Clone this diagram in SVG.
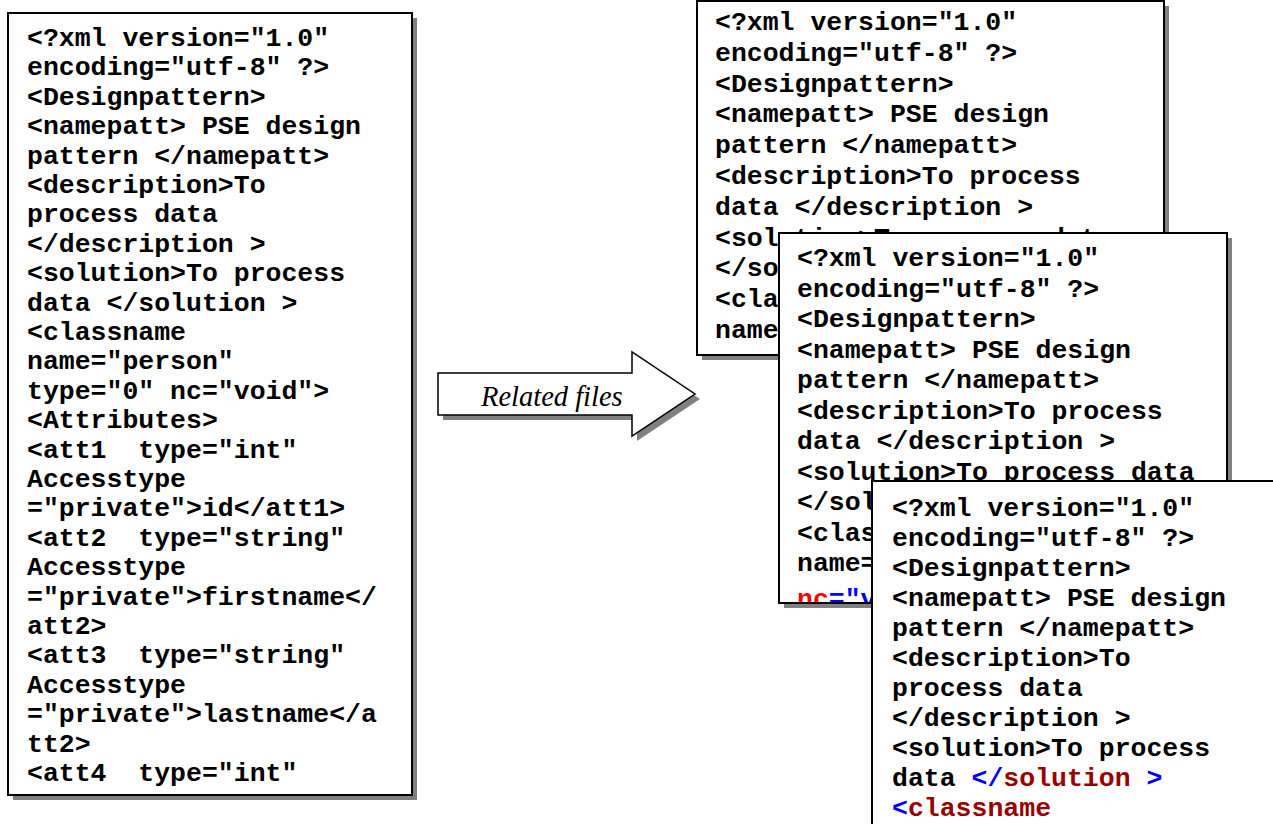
<svg xmlns="http://www.w3.org/2000/svg" width="1273" height="824" viewBox="0 0 1273 824">
  <style>
    .shadow { fill: #808080; }
    .box { fill: #ffffff; stroke: #000000; stroke-width: 2; }
    .code { font-family: "Liberation Mono", "Courier New", monospace; font-weight: bold; font-size: 26.5px; fill: #000000; }
    .tag { fill: #0000ff; }
    .elem { fill: #990000; }
    .attr { fill: #ff0000; }
    .label { font-family: "Liberation Serif", "Times New Roman", serif; font-style: italic; font-size: 28.5px; fill: #000000; }
  </style>
  <defs>
    <clipPath id="clip-file2">
      <rect x="780" y="234" width="446" height="368"/>
    </clipPath>
  </defs>

  <rect width="1273" height="824" fill="#ffffff"/>

  <!-- source XML file -->
  <g id="source-file">
    <rect class="shadow" x="13" y="18" width="404" height="782"/>
    <rect class="box" x="8" y="13" width="404" height="782"/>
    <g class="code">
      <text x="27" y="46">&lt;?xml version="1.0"</text>
      <text x="27" y="75.4">encoding="utf-8" ?&gt;</text>
      <text x="27" y="104.8">&lt;Designpattern&gt;</text>
      <text x="27" y="134.2">&lt;namepatt&gt; PSE design</text>
      <text x="27" y="163.6">pattern &lt;/namepatt&gt;</text>
      <text x="27" y="193">&lt;description&gt;To</text>
      <text x="27" y="222.4">process data</text>
      <text x="27" y="251.8">&lt;/description &gt;</text>
      <text x="27" y="281.2">&lt;solution&gt;To process</text>
      <text x="27" y="310.6">data &lt;/solution &gt;</text>
      <text x="27" y="340">&lt;classname</text>
      <text x="27" y="369.4">name="person"</text>
      <text x="27" y="398.8">type="0" nc="void"&gt;</text>
      <text x="27" y="428.2">&lt;Attributes&gt;</text>
      <text x="27" y="457.6">&lt;att1&#160; type="int"</text>
      <text x="27" y="487">Accesstype</text>
      <text x="27" y="516.4">="private"&gt;id&lt;/att1&gt;</text>
      <text x="27" y="545.8">&lt;att2&#160; type="string"</text>
      <text x="27" y="575.2">Accesstype</text>
      <text x="27" y="604.6">="private"&gt;firstname&lt;/</text>
      <text x="27" y="634">att2&gt;</text>
      <text x="27" y="663.4">&lt;att3&#160; type="string"</text>
      <text x="27" y="692.8">Accesstype</text>
      <text x="27" y="722.2">="private"&gt;lastname&lt;/a</text>
      <text x="27" y="751.6">tt2&gt;</text>
      <text x="27" y="781">&lt;att4&#160; type="int"</text>
    </g>
  </g>

  <!-- block arrow between the source and the related files -->
  <g id="connectors">
    <polygon class="shadow" points="443,378 637,378 637,357 700,399 637,441 637,420 443,420"/>
    <polygon fill="#ffffff" stroke="#000000" stroke-width="1.5" points="438,373 632,373 632,352 695,394 632,436 632,415 438,415"/>
    <text class="label" x="481" y="406">Related files</text>
  </g>

  <!-- related file 1 -->
  <g id="related-file-1">
    <rect class="shadow" x="702" y="6" width="467" height="354"/>
    <rect class="box" x="697" y="1" width="467" height="354"/>
    <g class="code">
      <text x="715" y="30">&lt;?xml version="1.0"</text>
      <text x="715" y="60.8">encoding="utf-8" ?&gt;</text>
      <text x="715" y="91.6">&lt;Designpattern&gt;</text>
      <text x="715" y="122.4">&lt;namepatt&gt; PSE design</text>
      <text x="715" y="153.2">pattern &lt;/namepatt&gt;</text>
      <text x="715" y="184">&lt;description&gt;To process</text>
      <text x="715" y="214.8">data &lt;/description &gt;</text>
      <text x="715" y="245.6">&lt;solution&gt;To process data</text>
      <text x="715" y="276.4">&lt;/solution &gt;</text>
      <text x="715" y="307.2">&lt;classname</text>
      <text x="715" y="338">name="person"</text>
    </g>
  </g>

  <!-- related file 2 -->
  <g id="related-file-2">
    <rect class="shadow" x="784" y="238" width="448" height="370"/>
    <rect class="box" x="779" y="233" width="448" height="370"/>
    <g class="code" clip-path="url(#clip-file2)">
      <text x="797" y="266">&lt;?xml version="1.0"</text>
      <text x="797" y="296.5">encoding="utf-8" ?&gt;</text>
      <text x="797" y="327">&lt;Designpattern&gt;</text>
      <text x="797" y="357.5">&lt;namepatt&gt; PSE design</text>
      <text x="797" y="388">pattern &lt;/namepatt&gt;</text>
      <text x="797" y="418.5">&lt;description&gt;To process</text>
      <text x="797" y="449">data &lt;/description &gt;</text>
      <text x="797" y="479.5">&lt;solution&gt;To process data</text>
      <text x="797" y="510">&lt;/solution &gt;</text>
      <text x="797" y="540.5">&lt;classname</text>
      <text x="797" y="571">name="person" type="0"</text>
      <text x="797" y="607"><tspan class="attr">nc</tspan><tspan class="tag">="void"&gt;</tspan></text>
    </g>
  </g>

  <!-- related file 3 -->
  <g id="related-file-3">
    <rect class="shadow" x="877" y="486" width="420" height="360"/>
    <rect class="box" x="872" y="481" width="420" height="360"/>
    <g class="code">
      <text x="892" y="516">&lt;?xml version="1.0"</text>
      <text x="892" y="546">encoding="utf-8" ?&gt;</text>
      <text x="892" y="576">&lt;Designpattern&gt;</text>
      <text x="892" y="606">&lt;namepatt&gt; PSE design</text>
      <text x="892" y="636">pattern &lt;/namepatt&gt;</text>
      <text x="892" y="666">&lt;description&gt;To</text>
      <text x="892" y="696">process data</text>
      <text x="892" y="726">&lt;/description &gt;</text>
      <text x="892" y="756">&lt;solution&gt;To process</text>
      <text x="892" y="786">data <tspan class="tag">&lt;/</tspan><tspan class="elem">solution</tspan><tspan class="tag"> &gt;</tspan></text>
      <text x="892" y="816"><tspan class="tag">&lt;</tspan><tspan class="elem">classname</tspan></text>
    </g>
  </g>
</svg>
